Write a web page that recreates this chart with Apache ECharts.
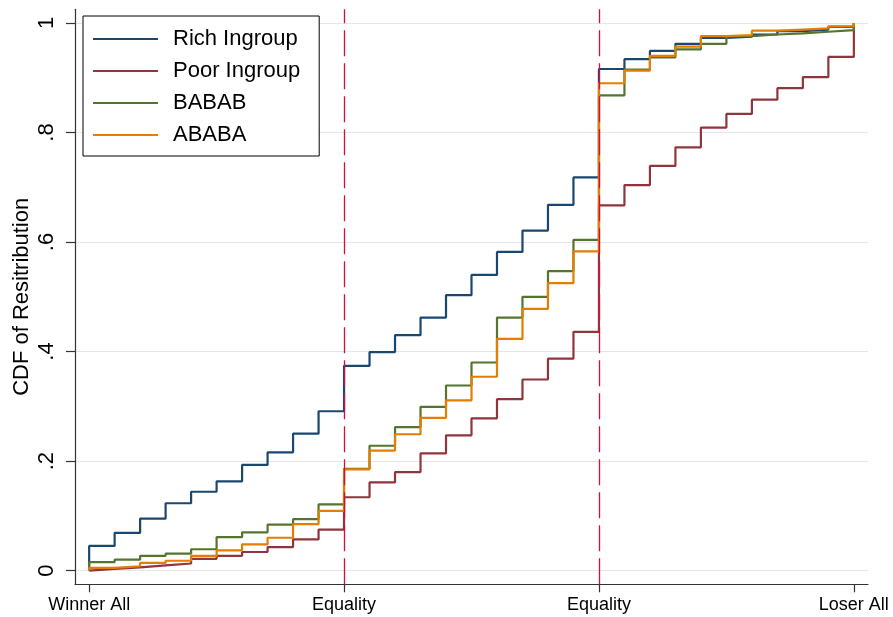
<!DOCTYPE html>
<html>
<head>
<meta charset="utf-8">
<title>CDF of Resitribution</title>
<script src="https://cdn.jsdelivr.net/npm/echarts@6/dist/echarts.min.js"></script>
<style>
  html, body { margin: 0; padding: 0; background: #ffffff; }
  #chart { width: 893px; height: 617px; }
</style>
</head>
<body>
<div id="chart"></div>
<script>
// Redistribution options, ordered from "winner takes all" to "loser takes all"
const xValues = [0, 1, 2, 3, 4, 5, 6, 7, 8, 9, 10, 11, 12, 13, 14, 15, 16, 17, 18, 19, 20,
                 21, 22, 23, 24, 25, 26, 27, 28, 29, 30];
const xTickValues = [0, 10, 20, 30];
const xTickLabels = ['Winner All', 'Equality', 'Equality', 'Loser All'];
const yTickValues = [0, 0.2, 0.4, 0.6, 0.8, 1];
const equalityMarks = [10, 20];

// Cumulative share of choices at each option
const richIngroup = [0.045, 0.069, 0.095, 0.123, 0.144, 0.163, 0.193, 0.216, 0.250, 0.291,
                     0.374, 0.399, 0.430, 0.462, 0.503, 0.540, 0.582, 0.621, 0.668, 0.718,
                     0.916, 0.934, 0.949, 0.962, 0.973, 0.975, 0.979, 0.985, 0.988, 0.993, 1.0];
const poorIngroup = [0.003, 0.006, 0.0095, 0.013, 0.0215, 0.027, 0.034, 0.043, 0.057, 0.075,
                     0.134, 0.161, 0.180, 0.214, 0.247, 0.278, 0.313, 0.349, 0.387, 0.436,
                     0.667, 0.704, 0.739, 0.773, 0.809, 0.834, 0.860, 0.881, 0.901, 0.938, 1.0];
const babab = [0.0155, 0.020, 0.027, 0.031, 0.039, 0.061, 0.070, 0.084, 0.094, 0.121,
               0.186, 0.228, 0.262, 0.299, 0.338, 0.380, 0.462, 0.500, 0.547, 0.604,
               0.868, 0.915, 0.937, 0.952, 0.962, 0.976, 0.979, 0.981, 0.984, 0.987, 1.0];
const ababa = [0.005, 0.008, 0.014, 0.018, 0.027, 0.037, 0.048, 0.060, 0.085, 0.109,
               0.185, 0.219, 0.249, 0.279, 0.311, 0.354, 0.423, 0.478, 0.525, 0.583,
               0.890, 0.913, 0.940, 0.957, 0.976, 0.978, 0.986, 0.988, 0.990, 0.994, 1.0];

const seriesNames = ['Rich Ingroup', 'Poor Ingroup', 'BABAB', 'ABABA'];
const seriesValues = [richIngroup, poorIngroup, babab, ababa];
const seriesColors = ['#1a476f', '#90353b', '#55752f', '#e37e00'];

const FONT = '"Liberation Sans", Arial, Helvetica, sans-serif';

// Each CDF rises from zero at the first option
function toSteps(values) {
  const pts = [[xValues[0], 0]];
  values.forEach((v, i) => pts.push([xValues[i], v]));
  return pts;
}

function fmtY(v) {
  if (v === 0) return '0';
  if (v === 1) return '1';
  return String(Math.round(v * 10) / 10).replace(/^0/, '');
}

const lineSeries = seriesNames.map((name, i) => ({
  name: name,
  type: 'line',
  step: 'end',
  data: toSteps(seriesValues[i]),
  showSymbol: false,
  symbol: 'none',
  color: seriesColors[i],
  lineStyle: { color: seriesColors[i], width: 2.2 },
  z: 3,
  animation: false
}));

// Dashed reference lines at the two equality points
const refSeries = {
  name: 'equality',
  type: 'line',
  data: [],
  z: 1,
  silent: true,
  markLine: {
    silent: true,
    symbol: 'none',
    label: { show: false },
    lineStyle: { color: '#d0103a', width: 1.3, type: [26, 7] },
    data: equalityMarks.map(x => ({ xAxis: x })),
    animation: false
  }
};

const chart = echarts.init(document.getElementById('chart'), null, { renderer: 'canvas' });
chart.setOption({
  backgroundColor: '#ffffff',
  animation: false,
  grid: { left: 75, right: 25, top: 9.3, bottom: 32.7, containLabel: false, outerBoundsMode: 'none' },
  legend: {
    data: seriesNames,
    orient: 'vertical',
    left: 83,
    top: 16,
    padding: [12, 19, 10, 10],
    itemGap: 10,
    itemWidth: 65,
    itemHeight: 2,
    icon: 'rect',
    borderColor: '#000000',
    borderWidth: 1,
    backgroundColor: '#ffffff',
    textStyle: { fontFamily: FONT, fontSize: 22, lineHeight: 22, color: '#000000', padding: [0, 0, 0, 10] }
  },
  xAxis: {
    type: 'value',
    min: -0.555,
    max: 30.555,
    axisLine: { show: true, onZero: false, lineStyle: { color: '#333333', width: 1.2 } },
    axisTick: { show: true, length: 8, customValues: xTickValues, lineStyle: { color: '#333333', width: 1.2 } },
    axisLabel: {
      customValues: xTickValues,
      fontFamily: FONT, fontSize: 18, color: '#000000', margin: 12,
      formatter: v => xTickLabels[xTickValues.indexOf(v)]
    },
    splitLine: { show: false }
  },
  yAxis: {
    type: 'value',
    min: -0.025,
    max: 1.025,
    name: 'CDF of Resitribution',
    nameLocation: 'middle',
    nameRotate: 90,
    nameGap: 42,
    nameMoveOverlap: false,
    nameTextStyle: { fontFamily: FONT, fontSize: 22, color: '#000000' },
    axisLine: { show: true, onZero: false, lineStyle: { color: '#333333', width: 1.2 } },
    axisTick: { show: true, length: 9, customValues: yTickValues, lineStyle: { color: '#333333', width: 1.2 } },
    axisLabel: {
      customValues: yTickValues,
      rotate: 90,
      fontFamily: FONT, fontSize: 22, color: '#000000', margin: 17,
      formatter: fmtY
    },
    splitLine: { show: true, lineStyle: { color: '#e6e6e6', width: 1 } }
  },
  series: [refSeries].concat(lineSeries)
});
</script>
</body>
</html>
